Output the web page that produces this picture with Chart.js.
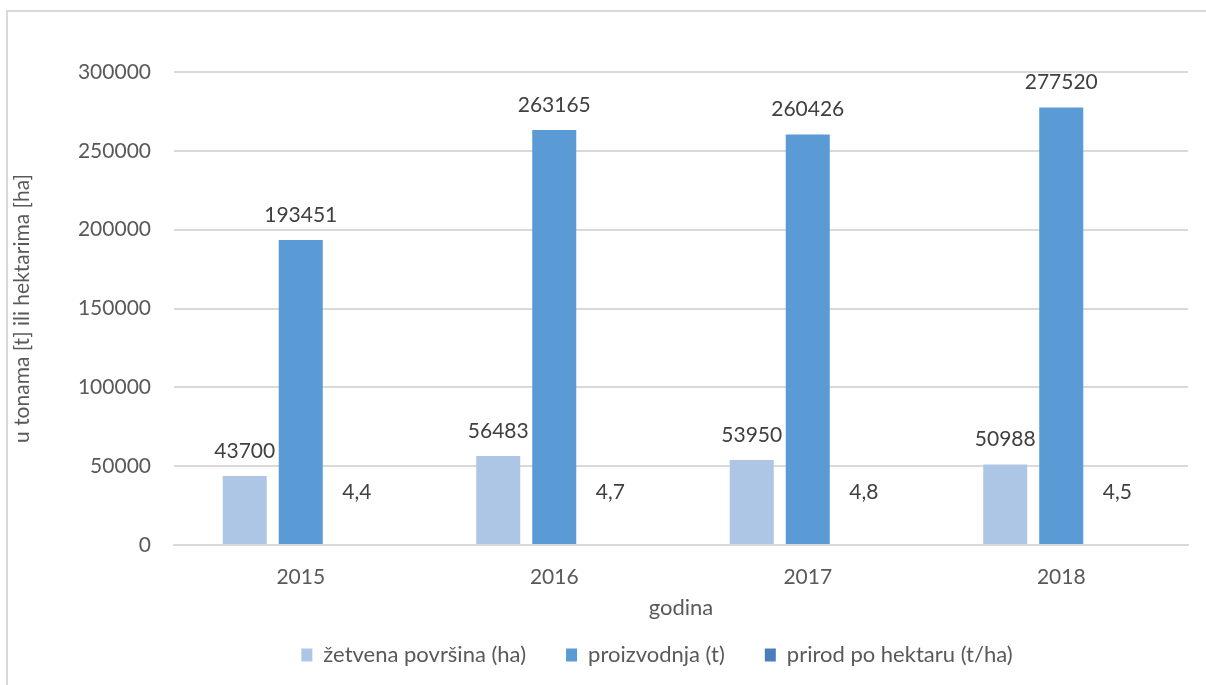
<!DOCTYPE html>
<html>
<head>
<meta charset="utf-8">
<script src="https://cdn.jsdelivr.net/npm/chart.js@4/dist/chart.umd.min.js"></script>
<style>
  html, body { margin: 0; padding: 0; background: #ffffff; width: 1206px; height: 685px; overflow: hidden; }
  #frame { position: absolute; left: 6px; top: 10px; width: 1200px; height: 675px; border-left: 2px solid #d9d9d9; border-top: 2px solid #d9d9d9; }
  #wrap { position: absolute; left: 0; top: 0; width: 1198px; height: 673px; }
</style>
</head>
<body>
<div id="frame"><div id="wrap"><canvas id="c"></canvas></div></div>
<script>
const categories = ['2015', '2016', '2017', '2018'];
const seriesNames = ['žetvena površina (ha)', 'proizvodnja (t)', 'prirod po hektaru (t/ha)'];
const harvestArea = [43700, 56483, 53950, 50988];
const production = [193451, 263165, 260426, 277520];
const yieldPerHa = [4.4, 4.7, 4.8, 4.5];
const yTicks = [0, 50000, 100000, 150000, 200000, 250000, 300000];

const FONT = 'Lato, "Open Sans", sans-serif';
const TEXT = '#595959';

const labelPlugin = {
  id: 'valueLabels',
  afterLayout(chart) {
    const lg = chart.legend;
    if (lg) { lg.left += 59; lg.right += 59; }
  },
  afterDatasetsDraw(chart) {
    const ctx = chart.ctx;
    ctx.save();
    ctx.font = '21px ' + FONT;
    ctx.fillStyle = '#404040';
    ctx.textAlign = 'center';
    ctx.textBaseline = 'middle';
    chart.data.datasets.forEach((ds, di) => {
      const meta = chart.getDatasetMeta(di);
      meta.data.forEach((bar, i) => {
        const v = ds.data[i];
        const txt = di === 2 ? v.toFixed(1).replace('.', ',') : String(v);
        const off = di === 2 ? 53 : 25;
        ctx.fillText(txt, bar.x, bar.y - off);
      });
    });
    ctx.restore();
  }
};

new Chart(document.getElementById('c'), {
  type: 'bar',
  data: {
    labels: categories,
    datasets: [
      { label: seriesNames[0], data: harvestArea, backgroundColor: '#aec6e6' },
      { label: seriesNames[1], data: production, backgroundColor: '#5b9bd5' },
      { label: seriesNames[2], data: yieldPerHa, backgroundColor: '#4a7ebb' }
    ]
  },
  options: {
    responsive: true,
    maintainAspectRatio: false,
    animation: false,
    datasets: { bar: { categoryPercentage: 0.663, barPercentage: 0.786, inflateAmount: 0 } },
    layout: { padding: { top: 60, right: 18, left: 0, bottom: 9 } },
    plugins: {
      tooltip: { enabled: false },
      legend: {
        position: 'bottom',
        labels: {
          font: { family: FONT, size: 22 },
          color: TEXT,
          boxWidth: 11,
          boxHeight: 13,
          padding: 40,
          generateLabels(chart) {
            return chart.data.datasets.map((ds, i) => ({
              text: ds.label, fillStyle: ds.backgroundColor, strokeStyle: ds.backgroundColor,
              lineWidth: 0, datasetIndex: i, hidden: false, fontColor: TEXT
            }));
          }
        }
      }
    },
    scales: {
      x: {
        grid: { display: false, drawTicks: false },
        border: { display: true, color: '#d9d9d9', width: 2, z: 1 },
        ticks: { font: { family: FONT, size: 21 }, color: TEXT, padding: 20 },
        title: { display: true, text: 'godina', font: { family: FONT, size: 22 }, color: TEXT, padding: { top: 0, bottom: -17 } },
        afterFit(scale) { scale.height = 59; }
      },
      y: {
        min: 0, max: 300000,
        afterBuildTicks(scale) { scale.ticks = yTicks.map(v => ({ value: v })); },
        grid: { color: '#d9d9d9', lineWidth: 2, drawTicks: false },
        border: { display: false },
        ticks: { font: { family: FONT, size: 21 }, color: TEXT, padding: 23, callback: v => String(v) },
        title: { display: true, text: 'u tonama [t] ili hektarima [ha]', font: { family: FONT, size: 21 }, color: TEXT, padding: { top: 2, bottom: 0 } },
        afterFit(scale) { scale.width = 166; }
      }
    }
  },
  plugins: [labelPlugin]
});
</script>
</body>
</html>
